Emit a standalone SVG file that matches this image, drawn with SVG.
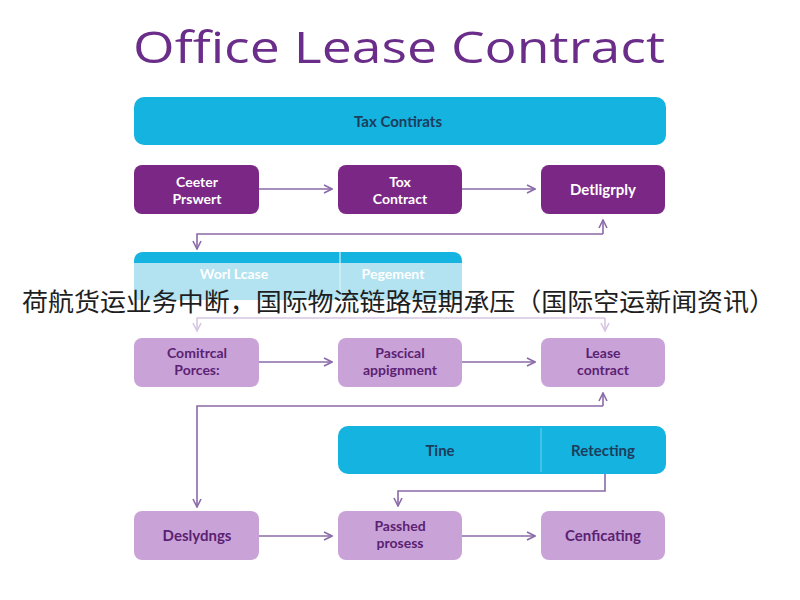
<svg xmlns="http://www.w3.org/2000/svg" width="800" height="600" viewBox="0 0 800 600">
<defs>
<marker id="ah" viewBox="0 0 10 10" refX="9" refY="5" markerWidth="10" markerHeight="10" markerUnits="userSpaceOnUse" orient="auto">
<path d="M1,1 L9,5 L1,9" fill="none" stroke="#8a6aa8" stroke-width="1.6"/>
</marker>
<marker id="ahl" viewBox="0 0 10 10" refX="9" refY="5" markerWidth="10" markerHeight="10" markerUnits="userSpaceOnUse" orient="auto">
<path d="M1,1 L9,5 L1,9" fill="none" stroke="#d6c6e2" stroke-width="1.6"/>
</marker>
</defs>
<style>
.t{font-family:Lato,"Open Sans","Liberation Sans",sans-serif;font-weight:700;text-anchor:middle}
.dk{fill:#7b2786}
.lt{fill:#c9a3d8}
.cy{fill:#14b3e0}
.w{fill:#ffffff;font-size:14px}
.p{fill:#5b2172;font-size:14px}
.n{fill:#1d3d5c;font-size:15px}
.c{fill:none;stroke:#8a6aa8;stroke-width:1.6}
.cl{fill:none;stroke:#d6c6e2;stroke-width:1.6}
</style>
<rect width="800" height="600" fill="#ffffff"/>
<text x="399" y="63" style="font-family:'Open Sans','Liberation Sans',sans-serif;text-anchor:middle;font-weight:400;font-size:44px;fill:#6b2d8a" textLength="532" lengthAdjust="spacingAndGlyphs">Office Lease Contract</text>

<g id="connectors">
<line x1="259" y1="189" x2="332" y2="189" class="c" marker-end="url(#ah)"/>
<line x1="462" y1="189" x2="535" y2="189" class="c" marker-end="url(#ah)"/>
<path d="M603,234 L603,220" class="c" marker-end="url(#ah)"/>
<path d="M603,234 L197,234 L197,249" class="c" marker-end="url(#ah)"/>
<path d="M605,318 L605,331" class="cl" marker-end="url(#ahl)"/>
<path d="M605,318 L197,318 L197,331" class="cl" marker-end="url(#ahl)"/>
<line x1="259" y1="362" x2="332" y2="362" class="c" marker-end="url(#ah)"/>
<line x1="462" y1="362" x2="535" y2="362" class="c" marker-end="url(#ah)"/>
<path d="M603,406 L603,393" class="c" marker-end="url(#ah)"/>
<path d="M603,406 L197,406 L197,507" class="c" marker-end="url(#ah)"/>
<path d="M605,474 L605,491 L398,491 L398,506" class="c" marker-end="url(#ah)"/>
<line x1="259" y1="536" x2="332" y2="536" class="c" marker-end="url(#ah)"/>
<line x1="462" y1="536" x2="535" y2="536" class="c" marker-end="url(#ah)"/>
</g>

<g id="tax-contirats">
<rect x="134" y="97" width="532" height="48" rx="10" class="cy"/>
<text x="398" y="127" class="t n">Tax Contirats</text>
</g>

<g id="ceeter-prswert">
<rect x="134" y="165" width="125" height="49" rx="8" class="dk"/>
<text x="197" y="187" class="t w">Ceeter</text>
<text x="197" y="204" class="t w">Prswert</text>
</g>
<g id="tox-contract">
<rect x="338" y="165" width="124" height="49" rx="8" class="dk"/>
<text x="400" y="187" class="t w">Tox</text>
<text x="400" y="204" class="t w">Contract</text>
</g>
<g id="detligrply">
<rect x="541" y="165" width="124" height="49" rx="8" class="dk"/>
<text x="603" y="195" class="t w" style="font-size:15px">Detligrply</text>
</g>

<g id="worl-lease-band">
<path d="M134,300 L134,262 Q134,252 144,252 L452,252 Q462,252 462,262 L462,300 Z" fill="#b3e3f1"/>
<path d="M134,263 L134,262 Q134,252 144,252 L452,252 Q462,252 462,262 L462,263 Z" class="cy"/>
<line x1="340" y1="252" x2="340" y2="300" stroke="#d8f1f8" stroke-width="1.2"/>
<text x="234" y="279" class="t w">Worl Lcase</text>
<text x="393" y="279" class="t w">Pegement</text>
</g>

<g id="comitrcal-porces">
<rect x="134" y="338" width="125" height="49" rx="8" class="lt"/>
<text x="197" y="358" class="t p">Comitrcal</text>
<text x="197" y="375" class="t p">Porces:</text>
</g>
<g id="pascical-appignment">
<rect x="338" y="338" width="124" height="49" rx="8" class="lt"/>
<text x="400" y="358" class="t p">Pascical</text>
<text x="400" y="375" class="t p">appignment</text>
</g>
<g id="lease-contract">
<rect x="541" y="338" width="124" height="49" rx="8" class="lt"/>
<text x="603" y="358" class="t p">Lease</text>
<text x="603" y="375" class="t p">contract</text>
</g>

<g id="tine-retecting">
<rect x="338" y="426" width="328" height="48" rx="10" class="cy"/>
<line x1="541" y1="428" x2="541" y2="472" stroke="#5fcdee" stroke-width="1.2"/>
<text x="440" y="456" class="t n">Tine</text>
<text x="603" y="456" class="t n">Retecting</text>
</g>

<g id="deslydngs">
<rect x="134" y="511" width="125" height="49" rx="8" class="lt"/>
<text x="197" y="541" class="t p" style="font-size:15px">Deslydngs</text>
</g>
<g id="passhed-process">
<rect x="338" y="511" width="124" height="49" rx="8" class="lt"/>
<text x="400" y="531" class="t p">Passhed</text>
<text x="400" y="548" class="t p">prosess</text>
</g>
<g id="cenficating">
<rect x="541" y="511" width="124" height="49" rx="8" class="lt"/>
<text x="603" y="541" class="t p" style="font-size:15px">Cenficating</text>
</g>

<text x="22" y="311" style="font-family:'Noto Sans CJK SC','Noto Sans',sans-serif;font-size:25px;fill:#1e1e1e" textLength="753" lengthAdjust="spacingAndGlyphs">荷航货运业务中断，国际物流链路短期承压（国际空运新闻资讯）</text>
</svg>
